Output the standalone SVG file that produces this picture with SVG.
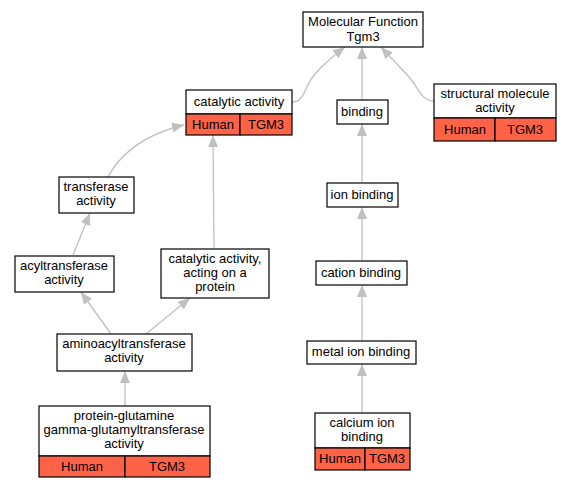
<svg xmlns="http://www.w3.org/2000/svg" width="571" height="488" viewBox="0 0 571 488">
<style>
text{font-family:"Liberation Sans",Arial,sans-serif;font-size:13px;fill:#000;text-anchor:middle}
.b{fill:#fff;stroke:#000;stroke-width:1.2}
.r{fill:#ff6347;stroke:#000;stroke-width:1.2}
.e{fill:none;stroke:#c0c0c0;stroke-width:1.3}
</style>
<defs>
<marker id="a" markerUnits="userSpaceOnUse" markerWidth="14" markerHeight="12" refX="12" refY="6" orient="auto">
<path d="M0,1 L12,6 L0,11 Z" fill="#c0c0c0"/>
</marker>
</defs>
<rect width="571" height="488" fill="#fff"/>
<g id="edges">
<path class="e" marker-end="url(#a)" d="M292,102 C305,102 303,88 315,74 C323,65 333,56 345,47"/>
<path class="e" marker-end="url(#a)" d="M362,100 L362,47"/>
<path class="e" marker-end="url(#a)" d="M434,101 C421,101 419,88 409,77 C401,68 391,58 381,47"/>
<path class="e" marker-end="url(#a)" d="M108,177 C118,158 140,135 184,125"/>
<path class="e" marker-end="url(#a)" d="M214,248 L213,135"/>
<path class="e" marker-end="url(#a)" d="M73,255 L90,213"/>
<path class="e" marker-end="url(#a)" d="M111,334 L81,292"/>
<path class="e" marker-end="url(#a)" d="M146,334 L190,298"/>
<path class="e" marker-end="url(#a)" d="M125,406 L125,371"/>
<path class="e" marker-end="url(#a)" d="M362,182 L362,124"/>
<path class="e" marker-end="url(#a)" d="M362,261 L362,207"/>
<path class="e" marker-end="url(#a)" d="M362,341 L362,285"/>
<path class="e" marker-end="url(#a)" d="M362,413 L362,364"/>
</g>
<g id="mf">
<rect class="b" x="303" y="12" width="120" height="35"/>
<text x="363" y="26">Molecular Function</text>
<text x="363" y="41">Tgm3</text>
</g>
<g id="catalytic">
<rect class="b" x="186" y="90" width="106" height="24"/>
<text x="239" y="106">catalytic activity</text>
<rect class="r" x="186" y="114" width="54" height="21"/>
<rect class="r" x="240" y="114" width="52" height="21"/>
<text x="213" y="129">Human</text>
<text x="266" y="129">TGM3</text>
</g>
<g id="binding">
<rect class="b" x="337" y="100" width="51" height="24"/>
<text x="362" y="116">binding</text>
</g>
<g id="structural">
<rect class="b" x="434" y="84" width="122" height="34"/>
<text x="495" y="98">structural molecule</text>
<text x="495" y="112">activity</text>
<rect class="r" x="434" y="118" width="61" height="23"/>
<rect class="r" x="495" y="118" width="61" height="23"/>
<text x="465" y="134">Human</text>
<text x="525" y="134">TGM3</text>
</g>
<g id="transferase">
<rect class="b" x="59" y="177" width="75" height="36"/>
<text x="96" y="191">transferase</text>
<text x="96" y="205">activity</text>
</g>
<g id="acyltransferase">
<rect class="b" x="15" y="256" width="99" height="36"/>
<text x="64" y="270">acyltransferase</text>
<text x="64" y="284">activity</text>
</g>
<g id="catprotein">
<rect class="b" x="161" y="249" width="108" height="49"/>
<text x="215" y="263">catalytic activity,</text>
<text x="215" y="277">acting on a</text>
<text x="215" y="291">protein</text>
</g>
<g id="aminoacyl">
<rect class="b" x="57" y="334" width="135" height="37"/>
<text x="124" y="348">aminoacyltransferase</text>
<text x="124" y="362">activity</text>
</g>
<g id="pgg">
<rect class="b" x="39" y="406" width="171" height="50"/>
<text x="124" y="420">protein-glutamine</text>
<text x="124" y="434">gamma-glutamyltransferase</text>
<text x="124" y="448">activity</text>
<rect class="r" x="39" y="456" width="86" height="21"/>
<rect class="r" x="125" y="456" width="85" height="21"/>
<text x="82" y="471">Human</text>
<text x="167" y="471">TGM3</text>
</g>
<g id="ionbinding">
<rect class="b" x="327" y="183" width="71" height="24"/>
<text x="362" y="199">ion binding</text>
</g>
<g id="cation">
<rect class="b" x="316" y="261" width="91" height="24"/>
<text x="361" y="277">cation binding</text>
</g>
<g id="metal">
<rect class="b" x="307" y="341" width="109" height="23"/>
<text x="361" y="356">metal ion binding</text>
</g>
<g id="calcium">
<rect class="b" x="315" y="413" width="95" height="35"/>
<text x="362" y="427">calcium ion</text>
<text x="362" y="441">binding</text>
<rect class="r" x="315" y="448" width="50" height="22"/>
<rect class="r" x="365" y="448" width="45" height="22"/>
<text x="340" y="463">Human</text>
<text x="387" y="463">TGM3</text>
</g>
</svg>
